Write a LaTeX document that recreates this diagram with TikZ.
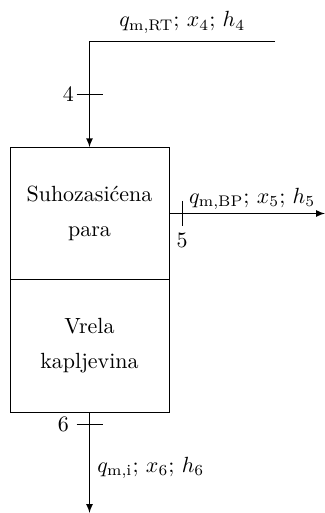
\documentclass[tikz,border=0pt]{standalone}
\usepackage{amsmath}
\usetikzlibrary{arrows, arrows.meta}
\usetikzlibrary{calc}

\tikzset{
  part/.style={draw, minimum width=2.544cm, minimum height=2.12cm, align=center, outer sep=0pt, inner sep=0pt},
  flow/.style={-latex},
}

\begin{document}
\begin{tikzpicture}
      \useasboundingbox (0,0) rectangle (5.2,8.208);
      % separator parts
      \node[part] (steam) at (1.432,4.792) {Suhozasićena\\[4pt]para};
      \node[part, anchor=north] (liquid) at (steam.south) {Vrela\\[4pt]kapljevina};
      % stream 4 in
      \coordinate (in4a) at (4.4,7.552);
      \coordinate (in4b) at (steam.north |- in4a);
      \coordinate (t4) at ($(steam.north |- 0,6.704)$);
      \draw[flow] (in4a) -- node[above] {$q_{\text{m,RT}}$; $x_4$; $h_4$} (in4b) -- (steam.north);
      \draw ([xshift=-0.208cm]t4) node[left, inner sep=1pt] {4} -- ([xshift=0.208cm]t4);
      % stream 5 out
      \coordinate (out5) at (5.2,0 |- steam.east);
      \coordinate (t5) at ($(2.912,0 |- steam.east)$);
      \draw[flow] (steam.east) -- (out5);
      \draw ([yshift=0.2cm]t5) node[right, inner sep=3pt, yshift=1pt] {$q_{\text{m,BP}}$; $x_5$; $h_5$} -- ([yshift=-0.2cm]t5) node[below, inner sep=3pt] {5};
      % stream 6 out
      \coordinate (out6) at (liquid.south |- 0,0);
      \coordinate (t6) at ($(liquid.south |- 0,1.424)$);
      \draw[flow] (liquid.south) -- node[pos=0.55, right] {$q_{\text{m,i}}$; $x_6$; $h_6$} (out6);
      \draw ([xshift=-0.208cm]t6) node[left] {6} -- ([xshift=0.208cm]t6);
    \end{tikzpicture}
\end{document}
